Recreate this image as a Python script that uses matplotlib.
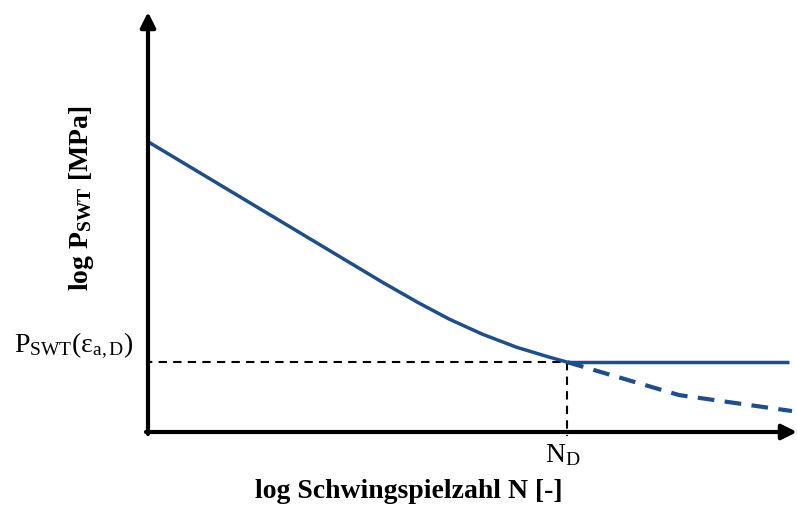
import matplotlib
matplotlib.use('Agg')
import matplotlib.pyplot as plt

plt.rcParams['font.family'] = ['Liberation Serif', 'DejaVu Serif']
plt.rcParams['mathtext.fontset'] = 'custom'
plt.rcParams['mathtext.rm'] = 'Liberation Serif'
plt.rcParams['mathtext.bf'] = 'Liberation Serif:bold'
plt.rcParams['mathtext.it'] = 'Liberation Serif:italic'

# schematic units (log N, log P)
curve_x = [0, 60, 120, 180, 235, 270, 302, 335, 369, 402, 420]
curve_y = [291, 255, 219, 183, 150, 130, 113, 98, 85, 75, 70]
knee_x, knee_y = 420, 70
flat_x = [420, 642]
flat_y = [70, 70]
dash_x = [420, 532, 645]
dash_y = [70, 37, 21]
x_max, y_max = 650, 421

blue = '#1f4e89'

fig = plt.figure(figsize=(7.97, 5.13), dpi=100)
ax = fig.add_axes([148/797, 1 - 432/513, 649/797, 420/513])
ax.set_xlim(0, x_max)
ax.set_ylim(0, y_max)
ax.axis('off')

# axes arrows
arrow = dict(arrowstyle='-|>,head_length=0.9,head_width=0.45', lw=3, color='black',
             shrinkA=0, shrinkB=0)
ax.annotate('', xy=(x_max, 0), xytext=(-2, 0), arrowprops=arrow, annotation_clip=False)
ax.annotate('', xy=(0, y_max), xytext=(0, -2), arrowprops=arrow, annotation_clip=False)

# helper dashed lines
ax.plot([-4, knee_x], [knee_y, knee_y], color='black', lw=1.5, ls=(0, (4, 3)))
ax.plot([knee_x, knee_x], [knee_y, -4], color='black', lw=1.5, ls=(0, (4, 3)), clip_on=False)

ax.plot(curve_x, curve_y, color=blue, lw=2.5, solid_capstyle='butt', solid_joinstyle='round')
ax.plot(flat_x, flat_y, color=blue, lw=2.5, solid_capstyle='butt')
ax.plot(dash_x, dash_y, color=blue, lw=3, ls=(0, (4, 2.5)), clip_on=False)

ax.text(-15, knee_y + 1, r'P$_\mathrm{SWT}$(ε$_\mathrm{a,D}$)', ha='right', va='bottom', fontsize=20)
ax.text(knee_x - 5, -10, r'N$_\mathrm{D}$', ha='center', va='top', fontsize=20)

fig.text(409/797, 1 - 491/513, 'log Schwingspielzahl N [-]', ha='center', va='center',
         fontsize=20, fontweight='bold')
fig.text(82/797, 1 - 198/513, r'log P$_\mathbf{SWT}$ [MPa]', ha='center', va='center',
         fontsize=20, fontweight='bold', rotation=90)

fig.savefig('out.png', dpi=100)
